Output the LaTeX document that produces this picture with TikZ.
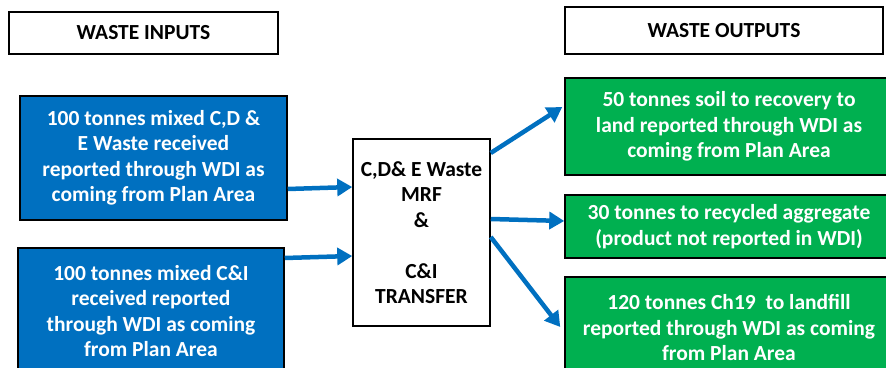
\documentclass[tikz,border=0pt]{standalone}
\usepackage{fontspec}
\setmainfont{Carlito}
\usetikzlibrary{arrows.meta}

\begin{document}
\begin{tikzpicture}[x=1pt,y=1pt,
  font=\fontsize{21.5}{25.5}\selectfont\bfseries,
  headbox/.style={draw=black, line width=1.5pt, fill=white, align=center, inner sep=0pt},
  inbox/.style={draw=black, line width=1.5pt, fill=inblue, text=white, align=center, inner sep=0pt},
  outbox/.style={draw=black, line width=1.5pt, fill=outgreen, text=white, align=center, inner sep=0pt},
  flow/.style={draw=inblue, line width=4.5pt, -{Triangle[length=15pt,width=17pt]}}]
\definecolor{inblue}{HTML}{0070C0}
\definecolor{outgreen}{HTML}{00B050}
\useasboundingbox (0,0) rectangle (886,367);

% headings
\node[headbox, minimum width=269pt, minimum height=42pt] (inputs) at (143.5,334) {WASTE INPUTS};
\node[headbox, minimum width=318pt, minimum height=47pt] (outputs) at (724,336.5) {WASTE OUTPUTS};

% inputs
\node[inbox, minimum width=267pt, minimum height=124pt] (cde) at (153.5,209) {100 tonnes mixed C,D \&\\E Waste received\\reported through WDI as\\coming from Plan Area};
\node[inbox, minimum width=266pt, minimum height=126pt] (ci) at (151,56) {100 tonnes mixed C\&I\\received reported\\through WDI as coming\\from Plan Area};

% facility
\node[headbox, minimum width=137pt, minimum height=187pt] (mrf) at (421.5,134.5) {C,D\& E Waste\\MRF\\\&\\[25.5pt]C\&I\\TRANSFER};

% outputs
\node[outbox, minimum width=328pt, minimum height=97pt] (soil) at (729,240.5) {50 tonnes soil to recovery to\\land reported through WDI as\\coming from Plan Area};
\node[outbox, minimum width=328pt, minimum height=63pt] (agg) at (729,140.5) {30 tonnes to recycled aggregate\\(product not reported in WDI)};
\node[outbox, minimum width=328pt, minimum height=102pt] (fill) at (729,39) {120 tonnes Ch19~ to landfill\\reported through WDI as coming\\from Plan Area};

% flows in
\draw[flow] ([yshift=-31pt]cde.east) -- ([yshift=45.5pt]mrf.west);
\draw[flow] ([yshift=53pt]ci.east) -- ([yshift=-23.5pt]mrf.west);

% flows out
\draw[flow] ([yshift=79.5pt]mrf.east) -- ([xshift=-2pt,yshift=19.5pt]soil.west);
\draw[flow] ([yshift=13.5pt]mrf.east) -- ([yshift=5.5pt]agg.west);
\draw[flow] ([yshift=-4.5pt]mrf.east) -- ([xshift=-4pt,yshift=1pt]fill.west);
\end{tikzpicture}
\end{document}
